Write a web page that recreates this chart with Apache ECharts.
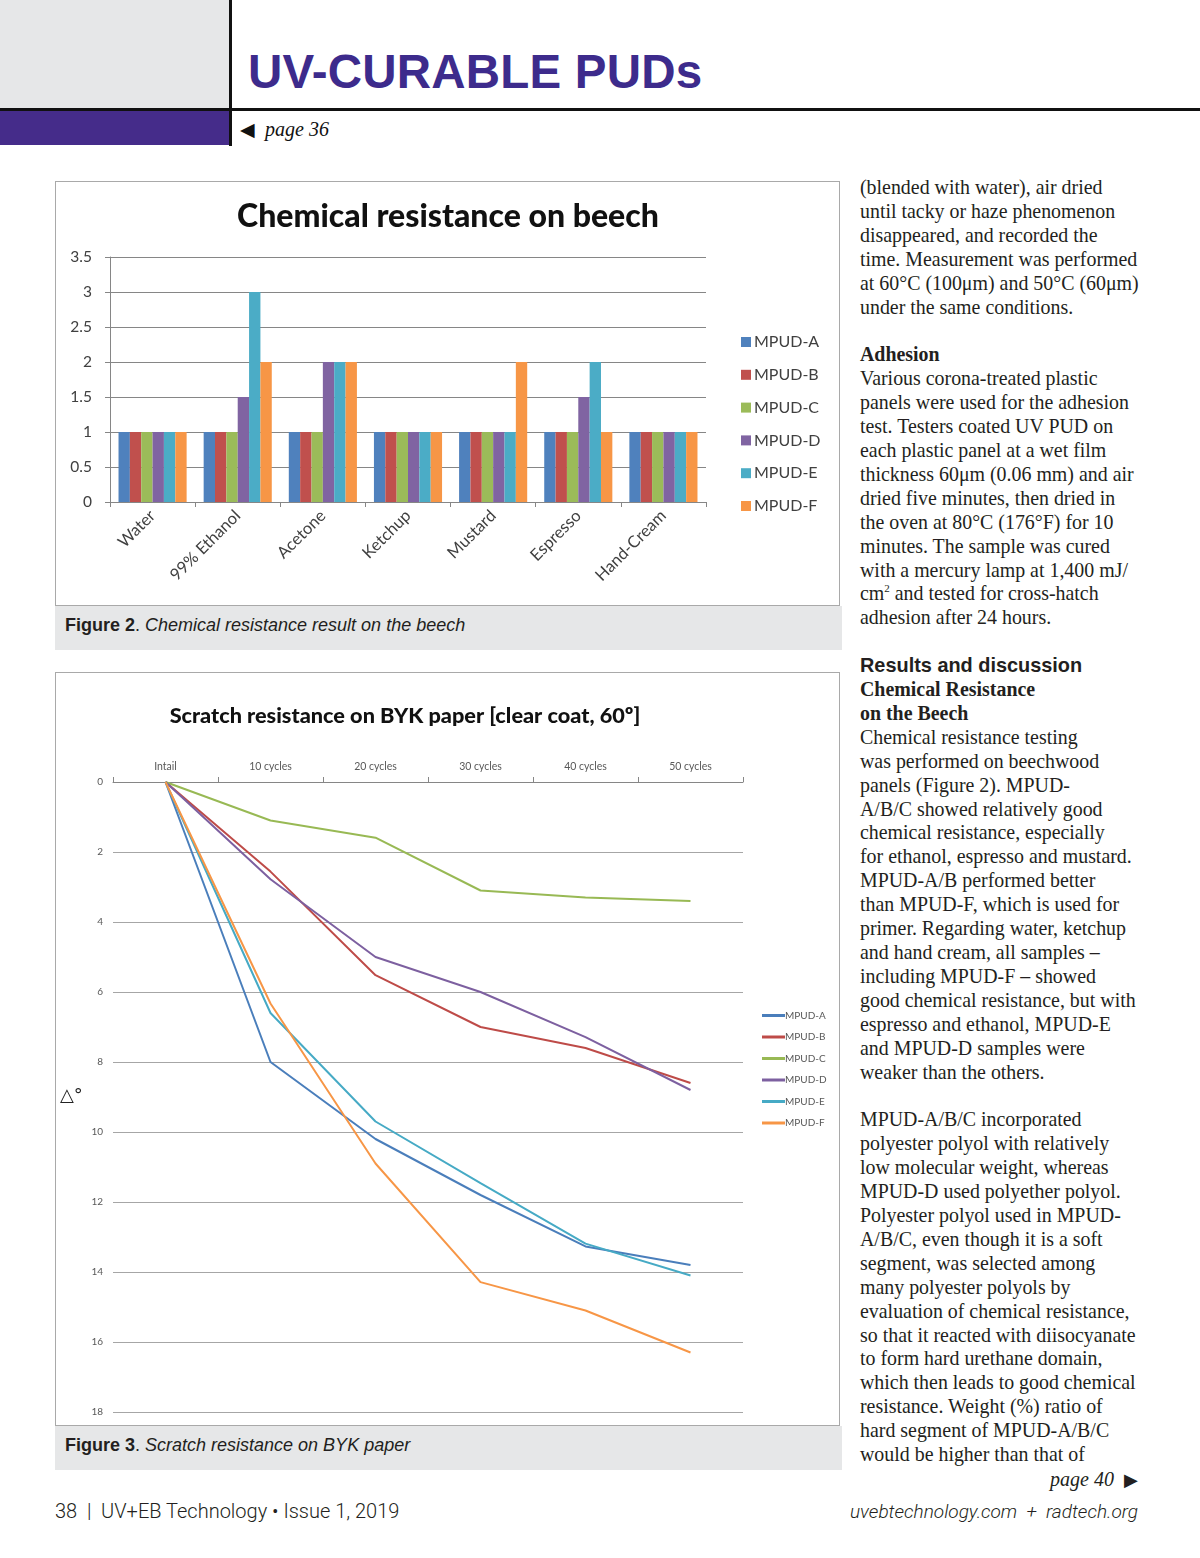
<!DOCTYPE html>
<html><head><meta charset="utf-8">
<script src="https://cdn.jsdelivr.net/npm/echarts@6/dist/echarts.min.js"></script>
<style>
html,body{margin:0;padding:0;background:#fff;}
#page{position:relative;width:1200px;height:1558px;overflow:hidden;background:#fff;}
.abs{position:absolute;}
#col{left:860px;top:176px;width:320px;font-family:"Liberation Serif","Times New Roman",serif;font-size:19.9px;line-height:23.9px;color:#231f20;white-space:nowrap;}
#col b{font-weight:bold;}
.cap{font-family:"Liberation Sans",Arial,sans-serif;font-size:18px;color:#231f20;}
</style></head>
<body><div id="page">
  <div class="abs" style="left:0;top:0;width:229px;height:108px;background:#e6e7e8;"></div>
  <div class="abs" style="left:0;top:108px;width:1200px;height:3px;background:#111;"></div>
  <div class="abs" style="left:229px;top:0;width:3px;height:146px;background:#111;"></div>
  <div class="abs" style="left:0;top:111px;width:229px;height:34px;background:#452c8a;"></div>
  <div class="abs" style="left:248px;top:45px;font-family:'Liberation Sans',Arial,sans-serif;font-weight:bold;font-size:47.5px;letter-spacing:0.2px;color:#3d2b8c;line-height:54px;">UV-CURABLE PUDs</div>
  <div class="abs" style="left:240px;top:117px;font-family:'Liberation Serif',serif;font-size:20px;line-height:24px;color:#111;"><span style="font-size:19px;">&#9664;</span>&nbsp;&nbsp;<i>page 36</i></div>

  <div class="abs" style="left:55px;top:181px;width:785px;height:425px;border:1px solid #a9a9a9;box-sizing:border-box;"></div>
  <div id="c1" class="abs" style="left:56px;top:182px;width:783px;height:423px;"></div>
  <div class="abs cap" style="left:55px;top:606px;width:787px;height:44px;background:#e6e7e8;"><div style="position:absolute;left:10px;top:9px;"><b>Figure 2</b>. <i>Chemical resistance result on the beech</i></div></div>

  <div class="abs" style="left:55px;top:672px;width:785px;height:754px;border:1px solid #a9a9a9;box-sizing:border-box;"></div>
  <div id="c2" class="abs" style="left:56px;top:673px;width:783px;height:752px;"></div>
  <div class="abs cap" style="left:55px;top:1426px;width:787px;height:44px;background:#e6e7e8;"><div style="position:absolute;left:10px;top:9px;"><b>Figure 3</b>. <i>Scratch resistance on BYK paper</i></div></div>

  <div id="col" class="abs">
(blended with water), air dried<br>
until tacky or haze phenomenon<br>
disappeared, and recorded the<br>
time. Measurement was performed<br>
at 60°C (100μm) and 50°C (60μm)<br>
under the same conditions.<br>
<br>
<b>Adhesion</b><br>
Various corona-treated plastic<br>
panels were used for the adhesion<br>
test. Testers coated UV PUD on<br>
each plastic panel at a wet film<br>
thickness 60μm (0.06 mm) and air<br>
dried five minutes, then dried in<br>
the oven at 80°C (176°F) for 10<br>
minutes. The sample was cured<br>
with a mercury lamp at 1,400 mJ/<br>
cm<sup style="font-size:11px;line-height:0;">2</sup> and tested for cross-hatch<br>
adhesion after 24 hours.<br>
<br>
<b style="font-family:'Liberation Sans',Arial,sans-serif;">Results and discussion</b><br>
<b>Chemical Resistance</b><br>
<b>on the Beech</b><br>
Chemical resistance testing<br>
was performed on beechwood<br>
panels (Figure 2). MPUD-<br>
A/B/C showed relatively good<br>
chemical resistance, especially<br>
for ethanol, espresso and mustard.<br>
MPUD-A/B performed better<br>
than MPUD-F, which is used for<br>
primer. Regarding water, ketchup<br>
and hand cream, all samples –<br>
including MPUD-F – showed<br>
good chemical resistance, but with<br>
espresso and ethanol, MPUD-E<br>
and MPUD-D samples were<br>
weaker than the others.<br>
<br>
MPUD-A/B/C incorporated<br>
polyester polyol with relatively<br>
low molecular weight, whereas<br>
MPUD-D used polyether polyol.<br>
Polyester polyol used in MPUD-<br>
A/B/C, even though it is a soft<br>
segment, was selected among<br>
many polyester polyols by<br>
evaluation of chemical resistance,<br>
so that it reacted with diisocyanate<br>
to form hard urethane domain,<br>
which then leads to good chemical<br>
resistance. Weight (%) ratio of<br>
hard segment of MPUD-A/B/C<br>
would be higher than that of
  </div>
  <div class="abs" style="left:900px;top:1467px;width:238px;text-align:right;font-family:'Liberation Serif',serif;font-size:20px;line-height:24px;color:#231f20;"><i>page 40</i>&nbsp; <span style="font-size:18px;">&#9654;</span></div>

  <div class="abs" style="left:55px;top:1498px;font-family:Roboto,'Liberation Sans',sans-serif;font-weight:300;font-size:20px;line-height:26px;color:#231f20;">38 &nbsp;|&nbsp; UV+EB Technology • Issue 1, 2019</div>
  <div class="abs" style="left:700px;top:1499px;width:438px;text-align:right;font-family:Roboto,'Liberation Sans',sans-serif;font-weight:300;font-style:italic;font-size:19px;line-height:26px;color:#231f20;">uvebtechnology.com &nbsp;+&nbsp; radtech.org</div>
</div>
<script>
// ---- Figure 2 data ----
const chemCategories = ['Water', '99% Ethanol', 'Acetone', 'Ketchup', 'Mustard', 'Espresso', 'Hand-Cream'];
const chemSeriesNames = ['MPUD-A', 'MPUD-B', 'MPUD-C', 'MPUD-D', 'MPUD-E', 'MPUD-F'];
const chemA = [1, 1, 1, 1, 1, 1, 1];
const chemB = [1, 1, 1, 1, 1, 1, 1];
const chemC = [1, 1, 1, 1, 1, 1, 1];
const chemD = [1, 1.5, 2, 1, 1, 1.5, 1];
const chemE = [1, 3, 2, 1, 1, 2, 1];
const chemF = [1, 2, 2, 1, 2, 1, 1];
const chemYTicks = [0, 0.5, 1, 1.5, 2, 2.5, 3, 3.5];

// ---- Figure 3 data ----
const scratchCategories = ['Intail', '10 cycles', '20 cycles', '30 cycles', '40 cycles', '50 cycles'];
const scratchNames = ['MPUD-A', 'MPUD-B', 'MPUD-C', 'MPUD-D', 'MPUD-E', 'MPUD-F'];
const scratchA = [0, 8.0, 10.2, 11.8, 13.27, 13.8];
const scratchB = [0, 2.56, 5.52, 7.0, 7.6, 8.6];
const scratchC = [0, 1.1, 1.59, 3.1, 3.3, 3.4];
const scratchD = [0, 2.78, 5.0, 6.0, 7.29, 8.8];
const scratchE = [0, 6.6, 9.7, 11.46, 13.19, 14.1];
const scratchF = [0, 6.33, 10.9, 14.29, 15.1, 16.3];
const scratchYTicks = [0, 2, 4, 6, 8, 10, 12, 14, 16, 18];

const barColors = ['#4f81bd', '#c0504d', '#9bbb59', '#8064a2', '#4bacc6', '#f79646'];
const lineColors = ['#4a7ebb', '#be4b48', '#98b954', '#7d60a0', '#46aac5', '#f79646'];
const CAL = 'Lato, "Open Sans", sans-serif';

const c1 = echarts.init(document.getElementById('c1'));
const chemData = [chemA, chemB, chemC, chemD, chemE, chemF];
c1.setOption({
  animation: false,
  title: { text: 'Chemical resistance on beech', left: 387, textAlign: 'center', top: 14,
    textStyle: { fontFamily: CAL, fontWeight: 900, fontSize: 32, color: '#111' } },
  legend: { orient: 'vertical', left: 680, top: 147, itemWidth: 10, itemHeight: 10, itemGap: 16.8,
    icon: 'rect', textStyle: { fontFamily: CAL, fontSize: 16, color: '#404040', padding: [0, 0, 0, -2] },
    data: chemSeriesNames },
  grid: { left: 54, right: 133, top: 75, bottom: 103, containLabel: false },
  xAxis: { type: 'category', data: chemCategories,
    axisLine: { lineStyle: { color: '#868686' } },
    axisTick: { show: true, length: 5, lineStyle: { color: '#868686' } },
    axisLabel: { rotate: 45, fontFamily: CAL, fontSize: 16.5, color: '#404040', margin: 11 } },
  yAxis: { type: 'value', min: chemYTicks[0], max: chemYTicks[chemYTicks.length - 1], interval: 0.5,
    axisLine: { show: true, lineStyle: { color: '#868686' } },
    axisTick: { show: true, length: 5, lineStyle: { color: '#868686' } },
    splitLine: { lineStyle: { color: '#868686' } },
    axisLabel: { fontFamily: CAL, fontSize: 15.5, color: '#404040', margin: 18 } },
  series: chemSeriesNames.map((n, i) => ({ name: n, type: 'bar', data: chemData[i],
    barGap: 0, barCategoryGap: '20%', itemStyle: { color: barColors[i] } }))
});

const c2 = echarts.init(document.getElementById('c2'));
const scratchData = [scratchA, scratchB, scratchC, scratchD, scratchE, scratchF];
c2.setOption({
  animation: false,
  title: { text: 'Scratch resistance on BYK paper [clear coat, 60º]', left: 344, textAlign: 'center', top: 27,
    textStyle: { fontFamily: CAL, fontWeight: 900, fontSize: 21.7, color: '#111' } },
  legend: { orient: 'vertical', left: 701, top: 332, itemWidth: 23, itemHeight: 3, itemGap: 10.5,
    icon: 'rect', textStyle: { fontFamily: CAL, fontSize: 10, color: '#595959', lineHeight: 11, padding: [0, 0, 0, -5] },
    data: scratchNames },
  graphic: [{ type: 'text', left: 4, top: 414,
    style: { text: '△°', font: '18px "DejaVu Sans", sans-serif', fill: '#222' } }],
  grid: { left: 57, right: 96, top: 109, bottom: 13, containLabel: false },
  xAxis: { type: 'category', position: 'top', data: scratchCategories, boundaryGap: true,
    axisLine: { lineStyle: { color: '#868686' } },
    axisTick: { show: true, length: 5, lineStyle: { color: '#868686' } },
    axisLabel: { fontFamily: CAL, fontSize: 10.5, color: '#595959', margin: 10 } },
  yAxis: { type: 'value', inverse: true, min: scratchYTicks[0], max: scratchYTicks[scratchYTicks.length - 1], interval: 2,
    axisLine: { show: false }, axisTick: { show: false },
    splitLine: { lineStyle: { color: '#a6a6a6' } },
    axisLabel: { fontFamily: CAL, fontSize: 10, color: '#595959', margin: 10 } },
  series: scratchNames.map((n, i) => ({ name: n, type: 'line', data: scratchData[i],
    symbol: 'none', lineStyle: { width: 2, color: lineColors[i] }, itemStyle: { color: lineColors[i] } }))
});
</script>
</body></html>
